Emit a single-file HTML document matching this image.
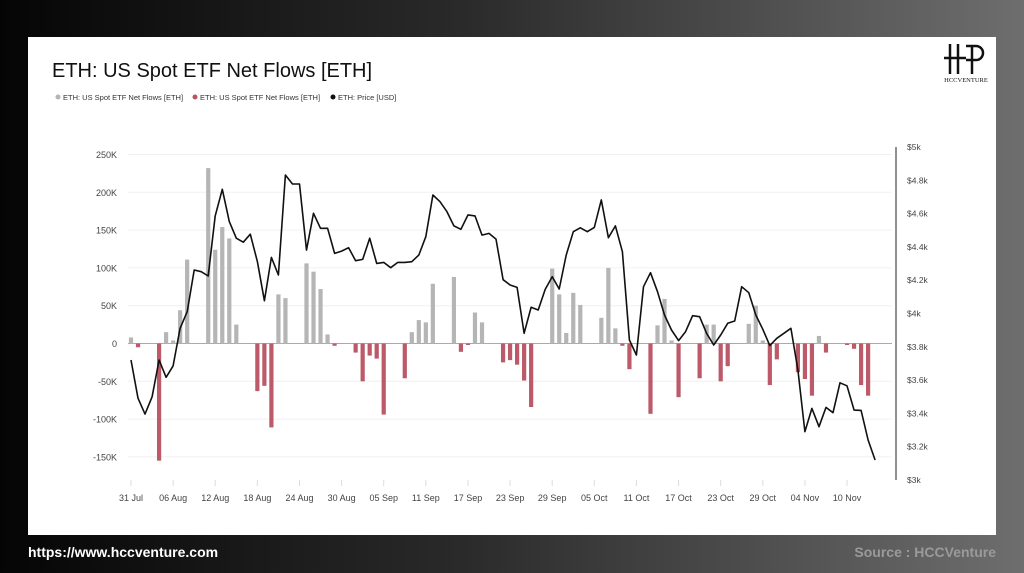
<!DOCTYPE html>
<html><head><meta charset="utf-8"><style>
html,body{margin:0;padding:0;width:1024px;height:573px;overflow:hidden;font-family:"Liberation Sans",sans-serif}
body{background:linear-gradient(90deg,#050505 0%,#2a2a2a 45%,#6e6e6e 100%)}
#card{position:absolute;left:28px;top:37px;width:968px;height:498px;background:#fff}
.foot{position:absolute;top:544px;font-size:14px;font-weight:bold}
</style></head><body>
<div id="card"></div>
<svg id="chart" width="1024" height="573" style="position:absolute;left:0;top:0"></svg>
<div class="foot" style="left:28px;color:#fff">https://www.hccventure.com</div>
<div class="foot" style="right:28px;color:#9a9a9a">Source : HCCVenture</div>
<script>
const dateLabels=["31 Jul","06 Aug","12 Aug","18 Aug","24 Aug","30 Aug","05 Sep","11 Sep","17 Sep","23 Sep","29 Sep","05 Oct","11 Oct","17 Oct","23 Oct","29 Oct","04 Nov","10 Nov"];
const leftTicks=[250,200,150,100,50,0,-50,-100,-150];
const rightTicks=[5000,4800,4600,4400,4200,4000,3800,3600,3400,3200,3000];
const flowDays=[0,1,4,5,6,7,8,11,12,13,14,15,18,19,20,21,22,25,26,27,28,29,32,33,34,35,36,39,40,41,42,43,46,47,48,49,50,53,54,55,56,57,60,61,62,63,64,67,68,69,70,71,74,75,76,77,78,81,82,83,84,85,88,89,90,91,92,95,96,97,98,99,102,103,104,105];
const flowValues=[8,-5,-155,15,4,44,111,232,124,154,139,25,-63,-56,-111,65,60,106,95,72,12,-3,-12,-50,-16,-20,-94,-46,15,31,28,79,88,-11,-2,41,28,-25,-22,-28,-49,-84,99,65,14,67,51,34,100,20,-3,-34,-93,24,59,4,-71,-46,25,25,-50,-30,26,50,4,-55,-21,-38,-47,-69,10,-12,-2,-7,-55,-69];
const priceValues=[3721,3491,3396,3500,3721,3617,3685,3911,4011,4261,4251,4225,4586,4746,4552,4452,4428,4476,4311,4077,4337,4231,4832,4778,4778,4381,4602,4512,4512,4361,4375,4395,4317,4325,4452,4301,4307,4275,4307,4307,4311,4351,4461,4712,4672,4612,4526,4506,4592,4586,4471,4481,4447,4203,4171,4157,3881,4037,4021,4145,4221,4147,4351,4491,4515,4491,4517,4682,4455,4526,4371,3841,3751,4161,4245,4131,3991,3901,3837,3891,3987,3981,3881,3811,3871,3941,3955,4161,4125,3991,3905,3807,3851,3881,3911,3661,3290,3430,3320,3436,3404,3584,3566,3420,3418,3240,3120];

const NS="http://www.w3.org/2000/svg";
const svg=document.getElementById('chart');
function mk(t,a,p){const e=document.createElementNS(NS,t);for(const k in a)e.setAttribute(k,a[k]);(p||svg).appendChild(e);return e;}
const xDay=d=>131+d*7.02;
const yL=v=>343.5-v*0.756;
const yR=p=>480-(p-3000)*0.1665;

let t=mk('text',{x:52,y:77,'font-size':20,fill:'#111'});t.textContent='ETH: US Spot ETF Net Flows [ETH]';


const legend=[["#b5b5b5","ETH: US Spot ETF Net Flows [ETH]",58],["#b85565","ETH: US Spot ETF Net Flows [ETH]",195],["#111","ETH: Price [USD]",333]];
legend.forEach(l=>{const g=mk('g',{});


mk('circle',{cx:l[2],cy:97,r:2.5,fill:l[0]},g);const tt=mk('text',{x:l[2]+5,y:100,'font-size':7.5,fill:'#333'},g);tt.textContent=l[1];});

leftTicks.forEach(v=>{const y=yL(v);const ln=mk('line',{x1:128,x2:892,y1:y,y2:y,stroke:v===0?'#aaa':'#f0f0f0','stroke-width':1});


const tx=mk('text',{x:117,y:y+3.5,'font-size':9,fill:'#444','text-anchor':'end'});tx.textContent=v===0?'0':v+'K';

});
rightTicks.forEach(p=>{const tx=mk('text',{x:907,y:yR(p)+3,'font-size':8.5,fill:'#444'});tx.textContent='$'+(p/1000)+'k';

});
mk('line',{x1:896,x2:896,y1:147,y2:480,stroke:'#222','stroke-width':1});
dateLabels.forEach((s,i)=>{const x=xDay(i*6);mk('line',{x1:x,x2:x,y1:480,y2:486,stroke:'#ddd'});
const tx=mk('text',{x:x,y:501,'font-size':9,fill:'#444','text-anchor':'middle'});tx.textContent=s;

});

flowDays.forEach((d,i)=>{const v=flowValues[i];const x=xDay(d);const y0=yL(0),y1=yL(v);
const r=mk('rect',{x:x-2.1,y:Math.min(y0,y1),width:4.2,height:Math.abs(y1-y0),fill:v>=0?'#b5b5b5':'#bc5a69'});

});

const pts=priceValues.map((p,i)=>xDay(i).toFixed(1)+','+yR(p).toFixed(1)).join(' ');
const pl=mk('polyline',{points:pts,fill:'none',stroke:'#111','stroke-width':1.6,'stroke-linejoin':'round'});



const lg=mk('g',{});


mk('path',{d:'M950 44 V74 M958 44 V74 M944 58 H966 M966 46 H976 A7 7 0 0 1 976 60 H966 M972 46 V74',stroke:'#111','stroke-width':2.5,fill:'none'},lg);
const lt=mk('text',{x:966,y:82,'font-size':6.5,fill:'#111','text-anchor':'middle','font-family':'Liberation Serif'},lg);lt.textContent='HCCVENTURE';
</script>
</body></html>
